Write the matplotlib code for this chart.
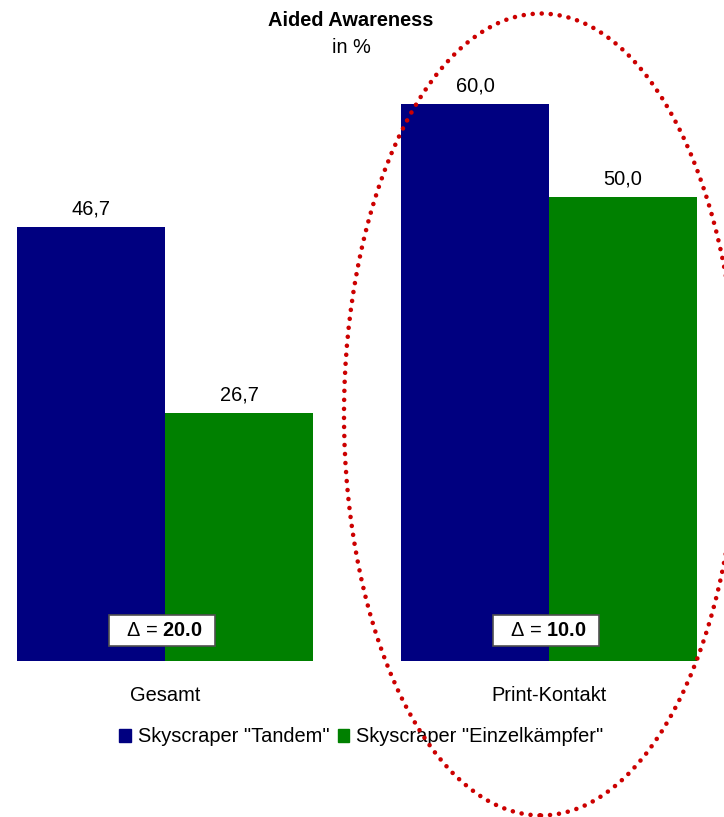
import matplotlib
matplotlib.use("Agg")
import matplotlib.pyplot as plt
from matplotlib.patches import Ellipse, Patch
import numpy as np

plt.rcParams['font.family'] = ['Liberation Sans', 'DejaVu Sans']
plt.rcParams['mathtext.fontset'] = 'custom'
plt.rcParams['mathtext.rm'] = 'Liberation Sans'
plt.rcParams['mathtext.bf'] = 'Liberation Sans:bold'

# data
categories = ['Gesamt', 'Print-Kontakt']
series_names = ['Skyscraper "Tandem"', 'Skyscraper "Einzelkämpfer"']
tandem = [46.7, 60.0]
einzel = [26.7, 50.0]
colors = ['#000080', '#008000']

W, H = 724, 817
fig = plt.figure(figsize=(W / 100, H / 100), dpi=100)

# axes: baseline at y=661px, 60 units -> y=104px, group spacing 384px
ax = fig.add_axes([0, (H - 661) / H, 1, (661 - 104) / H])
x = np.arange(len(categories))
bw = 148 / 384
ax.bar(x - bw / 2, tandem, bw, color=colors[0], zorder=2)
ax.bar(x + bw / 2, einzel, bw, color=colors[1], zorder=2)
ax.set_xlim(-165 / 384, (W - 165) / 384)
ax.set_ylim(0, 60)
for s in ax.spines.values():
    s.set_visible(False)
ax.set_yticks([])
ax.set_xticks(x)
ax.set_xticklabels(categories, fontsize=14.4)
ax.tick_params(axis='x', length=0, pad=18)

fs = 14.4
for xi, v in zip(x - bw / 2, tandem):
    ax.annotate(f"{v:.1f}".replace('.', ','), (xi, v), xytext=(0, 13),
                textcoords='offset points', ha='center', va='center', fontsize=fs)
for xi, v in zip(x + bw / 2, einzel):
    ax.annotate(f"{v:.1f}".replace('.', ','), (xi, v), xytext=(0, 13),
                textcoords='offset points', ha='center', va='center', fontsize=fs)

# delta boxes
for xi, a, b in zip(x, tandem, einzel):
    ax.text(xi - 0.008, 3.3, "  $\\Delta$ = $\\mathbf{%.1f}$  " % (a - b),
            ha='center', va='center', fontsize=fs, zorder=4,
            bbox=dict(boxstyle='square,pad=0.3', fc='white', ec='#505050', lw=1.2))

# title
fig.text(350.5 / W, 1 - 20.5 / H, 'Aided Awareness', ha='center', va='center',
         fontsize=fs, fontweight='bold')
fig.text(351 / W, 1 - 47.5 / H, 'in %', ha='center', va='center', fontsize=fs)

# legend
handles = [Patch(color=c) for c in colors]
fig.legend(handles, series_names, loc='center', bbox_to_anchor=(361.5 / W, 1 - 737 / H),
           ncol=2, frameon=False, fontsize=fs, handlelength=0.58, handleheight=0.58,
           handletextpad=0.35, columnspacing=0.42, borderaxespad=0)

# red dotted ellipse highlight
ell = Ellipse((541 / W, 1 - 414.5 / H), 394 / W, 802 / H, transform=fig.transFigure,
              fill=False, ec='#CC0000', lw=3.3, linestyle=(0, (0.01, 1.96)),
              capstyle='round', zorder=10, clip_on=False)
fig.patches.append(ell)

fig.savefig('out.png', dpi=100)
